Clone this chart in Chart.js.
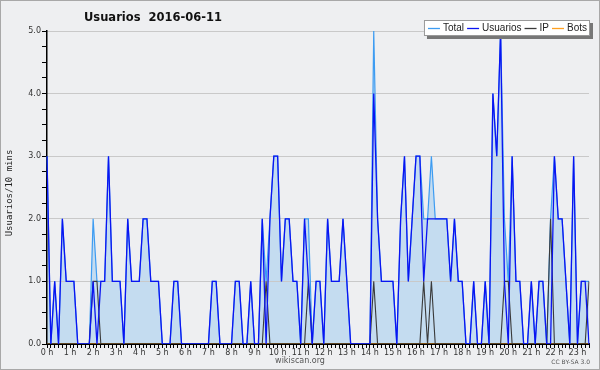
<!DOCTYPE html>
<html>
<head>
<meta charset="utf-8">
<script src="https://cdn.jsdelivr.net/npm/chart.js@4.4.1/dist/chart.umd.min.js"></script>
<style>
  html, body { margin: 0; padding: 0; background: #eeeff1; }
  #grafico { display: block; background: #eeeff1; }
</style>
</head>
<body>
<canvas id="grafico" width="600" height="370"></canvas>
<script>
'use strict';

// valores cada 10 min (00:00 ...)
let usuarios = [
  3,0,1,0,2,1,1,1,0,0,
  0,0,1,0,1,1,3,1,1,1,
  0,2,1,1,1,2,2,1,1,1,
  0,0,0,1,1,0,0,0,0,0,
  0,0,0,1,1,0,0,0,0,1,
  1,0,0,1,0,0,2,0,2,3,
  3,1,2,2,1,1,0,2,1,0,
  1,1,0,2,1,1,1,2,1,0,
  0,0,0,0,0,4,2,1,1,1,
  1,0,2,3,1,2,3,3,1,2,
  2,2,2,2,2,1,2,1,1,0,
  0,1,0,0,1,0,4,3,5,1,
  0,3,1,1,0,0,1,0,1,1,
  0,0,3,2,2,1,0,3,0,1,
  1,0
];
let ip = [
  0,0,0,0,0,0,0,0,0,0,
  0,0,1,1,0,0,0,0,0,0,
  0,0,0,0,0,0,0,0,0,0,
  0,0,0,0,0,0,0,0,0,0,
  0,0,0,0,0,0,0,0,0,0,
  0,0,0,0,0,0,0,1,0,0,
  0,0,0,0,0,0,0,0,1,0,
  0,0,0,0,0,0,0,0,0,0,
  0,0,0,0,0,1,0,0,0,0,
  0,0,0,0,0,0,0,0,1,0,
  1,0,0,0,0,0,0,0,0,0,
  0,0,0,0,0,0,0,0,0,1,
  1,0,0,0,0,0,0,0,0,0,
  0,2,0,0,0,0,0,0,0,0,
  0,1
];
let total = [
  3,0,1,0,2,1,1,1,0,0,
  0,0,2,1,1,1,3,1,1,1,
  0,2,1,1,1,2,2,1,1,1,
  0,0,0,1,1,0,0,0,0,0,
  0,0,0,1,1,0,0,0,0,1,
  1,0,0,1,0,0,2,1,2,3,
  3,1,2,2,1,1,0,2,2,0,
  1,1,0,2,1,1,1,2,1,0,
  0,0,0,0,0,5,2,1,1,1,
  1,0,2,3,1,2,3,3,2,2,
  3,2,2,2,2,1,2,1,1,0,
  0,1,0,0,1,0,4,3,5,2,
  1,3,1,1,0,0,1,0,1,1,
  0,2,3,2,2,1,0,3,0,1,
  1,1
];
let bots = [];
for (let i = 0; i < total.length; i++) {
  bots.push(0);
}

let titulo = 'Usuarios  2016-06-11';
let tituloEje = 'Usuarios/10 mins';

// etiquetas de tiempo
let horas = [];
for (let i = 0; i < total.length; i++) {
  let h = Math.floor(i / 6);
  let m = (i % 6) * 10;
  horas.push(h + ':' + (m < 10 ? '0' + m : m));
}

let decorado = {
  id: 'decorado',
  afterDraw(chart) {
    let ctx = chart.ctx;
    let area = chart.chartArea;
    ctx.save();

    // titulo
    ctx.fillStyle = '#111';
    ctx.font = 'bold 11.5px "DejaVu Sans"';
    ctx.textBaseline = 'middle';
    ctx.textAlign = 'left';
    ctx.fillText(titulo, 84, 18);

    // titulo del eje y
    ctx.save();
    ctx.translate(10, 193);
    ctx.rotate(-Math.PI / 2);
    ctx.textAlign = 'center';
    ctx.font = '9px "DejaVu Sans Mono"';
    ctx.fillStyle = '#222';
    ctx.fillText(tituloEje, 0, 0);
    ctx.restore();

    // leyenda
    ctx.font = '10px "Liberation Sans"';
    let items = chart.data.datasets;
    let anchoTotal = 4;
    for (let i = 0; i < items.length; i++) {
      anchoTotal += 15 + ctx.measureText(items[i].label).width + 3;
    }
    let lx = 590 - anchoTotal;
    let ly = 20;
    let lh = 16;
    ctx.fillStyle = '#777';
    ctx.fillRect(lx + 3, ly + 3, anchoTotal, lh);
    ctx.fillStyle = '#fff';
    ctx.fillRect(lx, ly, anchoTotal, lh);
    ctx.strokeStyle = '#999';
    ctx.lineWidth = 1;
    ctx.strokeRect(lx + 0.5, ly + 0.5, anchoTotal - 1, lh - 1);
    let x = lx + 4;
    for (let i = 0; i < items.length; i++) {
      ctx.strokeStyle = items[i].borderColor;
      ctx.lineWidth = 1.3;
      ctx.beginPath();
      ctx.moveTo(x, ly + 8.5);
      ctx.lineTo(x + 12, ly + 8.5);
      ctx.stroke();
      ctx.fillStyle = '#222';
      ctx.textAlign = 'left';
      ctx.fillText(items[i].label, x + 15, ly + 8.5);
      x += 15 + ctx.measureText(items[i].label).width + 3;
    }

    // pie
    ctx.fillStyle = '#555';
    ctx.textAlign = 'center';
    ctx.font = '8px "DejaVu Sans"';
    ctx.fillText('wikiscan.org', 300, 361);
    ctx.textAlign = 'right';
    ctx.font = '6px "DejaVu Sans"';
    ctx.fillText('CC BY-SA 3.0', 590, 362);

    // borde
    ctx.strokeStyle = '#a8a8a8';
    ctx.lineWidth = 1;
    ctx.strokeRect(0.5, 0.5, 599, 369);
    ctx.restore();
  }
};

let ctx = document.getElementById('grafico').getContext('2d');
let grafico = new Chart(ctx, {
  type: 'line',
  data: {
    labels: horas,
    datasets: [{
      label: 'Total',
      data: total,
      borderColor: '#3d9cf2',
      backgroundColor: '#c4dcf0',
      borderWidth: 1.2,
      fill: 'origin',
      order: 2
    }, {
      label: 'Usuarios',
      data: usuarios,
      borderColor: '#0a14f2',
      borderWidth: 1.3,
      fill: false,
      order: 0
    }, {
      label: 'IP',
      data: ip,
      borderColor: '#3a3a3a',
      borderWidth: 1.1,
      fill: false,
      order: 1
    }, {
      label: 'Bots',
      data: bots,
      borderColor: '#ffa020',
      borderWidth: 1.1,
      fill: false,
      order: 3
    }]
  },
  options: {
    responsive: false,
    animation: false,
    layout: { padding: { top: 31, right: 11, bottom: 0, left: 0 } },
    elements: {
      point: { radius: 0 },
      line: { tension: 0 }
    },
    plugins: {
      legend: { display: false },
      tooltip: { enabled: false },
      filler: { drawTime: 'beforeDraw' }
    },
    scales: {
      x: {
        type: 'category',
        offset: false,
        z: 1,
        afterFit: function(s) { s.height = 26; },
        border: { display: true, color: '#000', width: 2 },
        grid: {
          display: true,
          drawOnChartArea: false,
          drawTicks: true,
          tickLength: 4,
          tickColor: '#000'
        },
        ticks: {
          autoSkip: false,
          maxRotation: 0,
          padding: 0,
          color: '#333',
          font: { family: 'DejaVu Sans', size: 8 },
          callback: function(v, i) {
            return i % 6 === 0 ? (i / 6) + ' h' : '';
          }
        }
      },
      y: {
        min: 0,
        max: 5,
        z: 1,
        afterFit: function(s) { s.width = 47; },
        border: { display: true, color: '#000', width: 1.5 },
        grid: {
          drawOnChartArea: false,
          tickColor: '#000',
          tickLength: 5
        },
        ticks: {
          stepSize: 0.25,
          padding: 1,
          color: '#333',
          font: { family: 'DejaVu Sans', size: 8 },
          callback: function(v) {
            return Number.isInteger(v) ? v.toFixed(1) : '';
          }
        }
      },
      // rejilla horizontal debajo de las lineas
      yRejilla: {
        axis: 'y',
        position: 'left',
        display: true,
        min: 0,
        max: 5,
        z: 0,
        afterFit: function(s) { s.width = 0; },
        border: { display: false },
        grid: { color: '#c9c9c9', drawTicks: false },
        ticks: { display: false, stepSize: 1 }
      }
    }
  },
  plugins: [decorado]
});
</script>
</body>
</html>
